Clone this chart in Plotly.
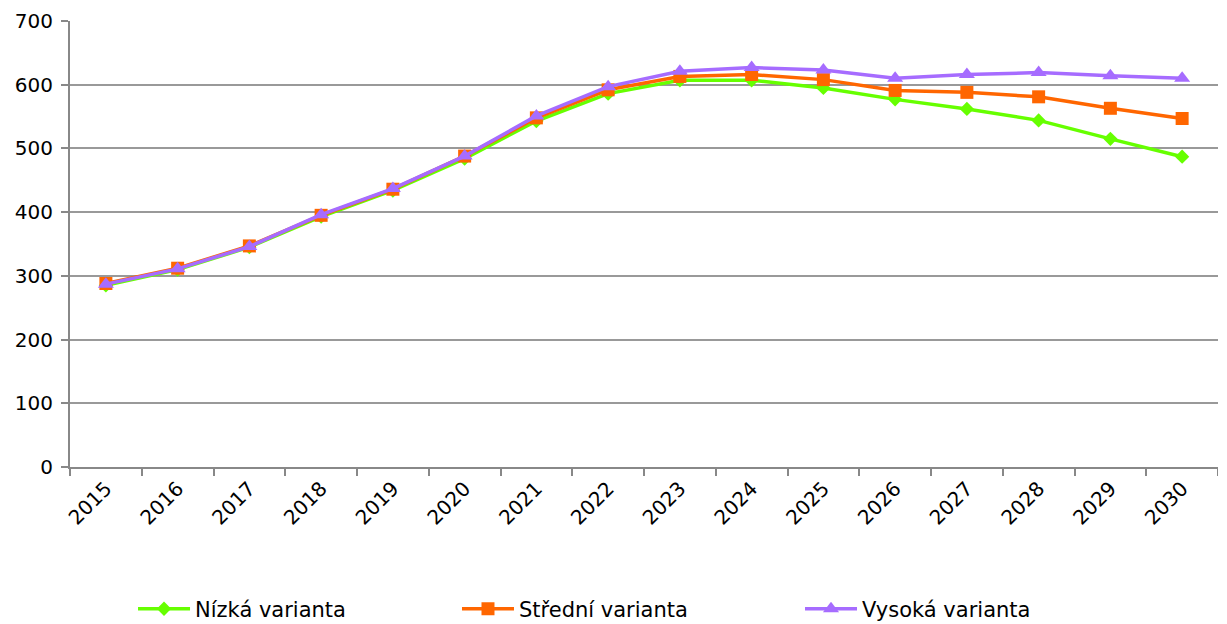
import plotly.graph_objects as go

years = [str(y) for y in range(2015, 2031)]
nizka = [285, 310, 345, 393, 434, 484, 543, 586, 607, 607, 595, 577, 562, 544, 515, 487]
stredni = [288, 312, 347, 395, 436, 488, 548, 592, 613, 616, 608, 591, 588, 581, 563, 547]
vysoka = [287, 311, 346, 396, 437, 488, 551, 597, 621, 627, 623, 610, 616, 619, 614, 610]

names = ["Nízká varianta", "Střední varianta", "Vysoká varianta"]
colors = ["#66ff00", "#ff6600", "#a66cff"]
symbols = ["diamond", "square", "triangle-up"]
sizes = [11, 13, 14]
legend_ids = ["legend", "legend2", "legend3"]
legend_x = [0.0549, 0.3371, 0.6359]

FONT = "Verdana, DejaVu Sans, sans-serif"

fig = go.Figure()
for vals, name, col, sym, sz, lid in zip([nizka, stredni, vysoka], names, colors, symbols, sizes, legend_ids):
    fig.add_trace(go.Scatter(
        x=years, y=vals, name=name, mode="lines+markers",
        line=dict(color=col, width=3.5),
        marker=dict(symbol=sym, size=sz, color=col),
        legend=lid,
    ))

legend_style = dict(orientation="h", xanchor="left", xref="paper",
                    y=0.007, yanchor="bottom", yref="container", itemwidth=52,
                    bgcolor="rgba(0,0,0,0)", font=dict(family=FONT, size=21))

# the page body has an 8px default margin; sizes compensate for it
layout_legends = {lid: dict(legend_style, x=lx) for lid, lx in zip(legend_ids, legend_x)}
fig.update_layout(
    width=1210, height=626,
    margin=dict(l=62, r=0, t=13, b=167),
    paper_bgcolor="white", plot_bgcolor="white",
    font=dict(family=FONT, size=20, color="black"),
    showlegend=True,
    **layout_legends,
    xaxis=dict(
        type="category", range=[-0.5, len(years) - 0.5],
        showline=True, linecolor="#888888", linewidth=2,
        ticks="outside", tickson="boundaries", ticklen=7, tickcolor="#888888", tickwidth=2,
        tickangle=-45, showgrid=False, tickfont=dict(size=20), automargin=False,
    ),
    yaxis=dict(
        range=[0, 700], dtick=100, showline=True, linecolor="#888888", linewidth=2,
        ticks="outside", ticklen=7, tickcolor="#888888", tickwidth=2, ticklabelstandoff=4,
        gridcolor="#999999", gridwidth=2, zeroline=False, tickfont=dict(size=20),
        automargin=False,
    ),
)

fig.write_html("out.html")
